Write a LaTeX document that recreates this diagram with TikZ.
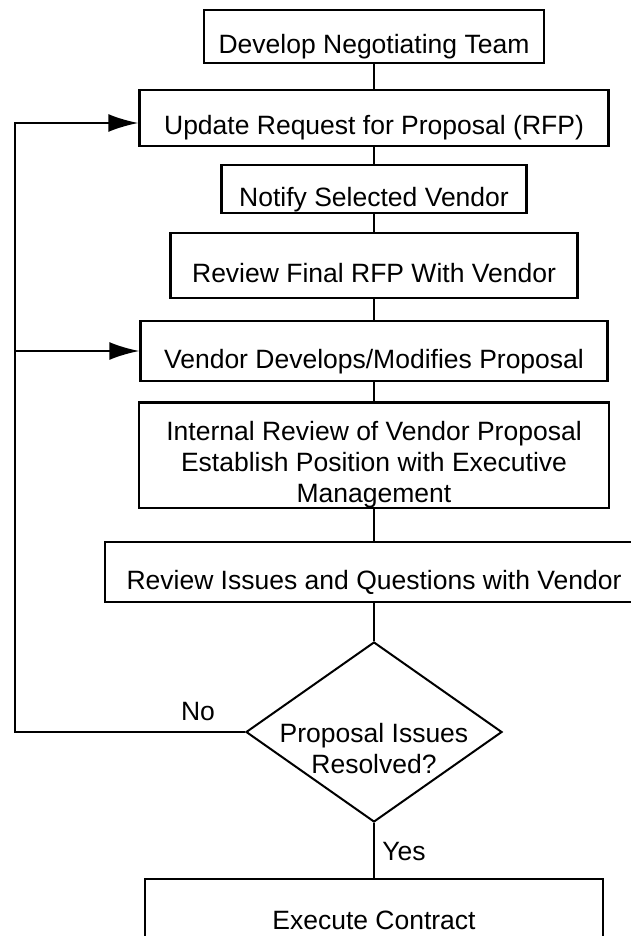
\documentclass[tikz,border=0pt]{standalone}
\usepackage{fontspec}
\setmainfont{Liberation Sans}
\usetikzlibrary{shapes.geometric,arrows.meta}

\begin{document}
\begin{tikzpicture}[x=1pt, y=1pt, font=\fontsize{26.5}{31}\selectfont,
        box/.style={draw, line width=2.5pt, inner sep=0pt, text height=40pt, text depth=6pt},
        tallbox/.style={draw, line width=2.5pt, inner sep=0pt, align=center},
        decision/.style={draw, diamond, line width=2pt, inner sep=0pt, minimum width=256pt, minimum height=180pt},
        link/.style={line width=2pt},
        feedback/.style={line width=2pt, -{Latex[length=30pt, width=18pt]}}]

        \useasboundingbox (0,0) rectangle (631,-936);

        \node[box, minimum width=340pt, minimum height=53pt] (team) at (374,-36.5) {Develop Negotiating Team};
        \node[box, minimum width=469pt, minimum height=56pt] (rfp) at (374,-118) {Update Request for Proposal (RFP)};
        \node[box, minimum width=305pt, minimum height=48pt] (notify) at (374,-189) {Notify Selected Vendor};
        \node[box, minimum width=407pt, minimum height=65pt] (final) at (374,-265.5) {Review Final RFP With Vendor};
        \node[box, minimum width=467pt, minimum height=60pt] (develops) at (374,-351) {Vendor Develops/Modifies Proposal};
        \node[tallbox, minimum width=470pt, minimum height=104pt] (internal) at (374,-455)
            {\rule{0pt}{38pt}Internal Review of Vendor Proposal\\Establish Position with Executive\\Management};
        \node[box, minimum width=538pt, minimum height=60pt] (issues) at (374,-572) {Review Issues and Questions with Vendor};
        \node[decision, label={[align=center, yshift=-17pt]center:Proposal Issues\\Resolved?}] (resolved) at (374,-732) {};
        \node[box, minimum width=458pt, minimum height=66pt] (contract) at (374,-912) {Execute Contract};

        \node (no) at (198,-712) {No};
        \node (yes) at (404,-852) {Yes};
        \coordinate (loop) at (15,-732);

        \draw[link] (team) -- (rfp);
        \draw[link] (rfp) -- (notify);
        \draw[link] (notify) -- (final);
        \draw[link] (final) -- (develops);
        \draw[link] (develops) -- (internal);
        \draw[link] (internal) -- (issues);
        \draw[link] (issues) -- (resolved);
        \draw[link] (resolved) -- (contract);

        \draw[feedback] (resolved.west) -- (loop) |- ([yshift=-5pt]rfp.west);
        \draw[feedback] (loop |- develops.west) -- (develops.west);
    \end{tikzpicture}
\end{document}
